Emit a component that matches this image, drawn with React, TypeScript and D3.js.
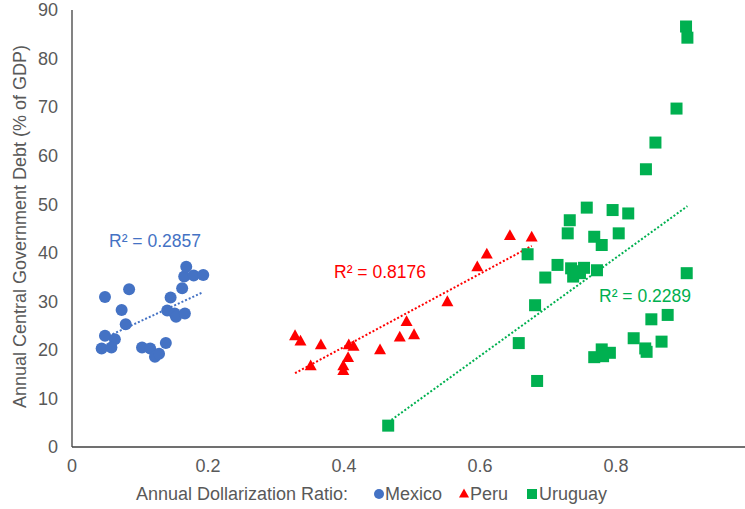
import React from "react";
import * as d3 from "d3";

const W = 745;
const H = 509;

// Data (x = dollarization ratio, y = debt % of GDP)
const mexicoX = [0.0485, 0.084, 0.073, 0.079, 0.0485, 0.063, 0.0436, 0.058, 0.103, 0.115, 0.122, 0.128, 0.138, 0.145, 0.140, 0.151, 0.153, 0.166, 0.162, 0.165, 0.168, 0.179, 0.193];
const mexicoY = [30.9, 32.5, 28.2, 25.3, 22.9, 22.2, 20.3, 20.5, 20.5, 20.3, 18.6, 19.2, 21.4, 30.8, 28.1, 27.5, 26.8, 27.5, 32.7, 35.1, 37.1, 35.3, 35.4];

const peruX = [0.328, 0.336, 0.366, 0.351, 0.407, 0.414, 0.406, 0.399, 0.399, 0.453, 0.482, 0.492, 0.503, 0.552, 0.596, 0.610, 0.644, 0.676];
const peruY = [22.9, 21.8, 21.0, 16.7, 21.0, 20.7, 18.4, 16.7, 15.7, 20.0, 22.6, 25.8, 23.1, 29.9, 37.1, 39.7, 43.5, 43.2];

const uruguayX = [0.465, 0.657, 0.684, 0.681, 0.670, 0.696, 0.714, 0.732, 0.729, 0.757, 0.795, 0.818, 0.804, 0.768, 0.779, 0.734, 0.753, 0.737, 0.747, 0.742, 0.772, 0.779, 0.768, 0.791, 0.781, 0.826, 0.843, 0.845, 0.867, 0.852, 0.876, 0.904, 0.844, 0.858, 0.889, 0.903, 0.905];
const uruguayY = [4.4, 21.4, 13.6, 29.2, 39.7, 34.9, 37.5, 46.7, 44.0, 49.3, 48.8, 48.1, 44.0, 43.3, 41.6, 36.8, 36.9, 35.1, 35.8, 36.2, 36.4, 20.1, 18.5, 19.4, 18.7, 22.4, 20.3, 19.6, 21.7, 26.3, 27.2, 35.8, 57.2, 62.7, 69.7, 86.6, 84.3];

// Trend lines [x0, y0, x1, y1]
const mexicoTrend = [0.0436, 22.2, 0.193, 31.9];
const peruTrend = [0.328, 15.2, 0.676, 41.4];
const uruguayTrend = [0.465, 5.1, 0.905, 49.6];

const r2Labels = ["R² = 0.2857", "R² = 0.8176", "R² = 0.2289"];
const seriesNames = ["Mexico", "Peru", "Uruguay"];
const xTicks = [0, 0.2, 0.4, 0.6, 0.8, 1];
const yTicks = [0, 10, 20, 30, 40, 50, 60, 70, 80, 90];

const BLUE = "#4472C4";
const RED = "#FF0000";
const GREEN = "#00B050";
const TXT = "#595959";
const FONT = "'Liberation Sans', Arial, sans-serif";
const FS = 18;

export default function App() {
  const x = d3.scaleLinear().domain([0, 1]).range([72, 752]);
  const y = d3.scaleLinear().domain([0, 90]).range([447, 10]);

  const trend = (t: number[], color: string) => (
    <line x1={x(t[0])} y1={y(t[1])} x2={x(t[2])} y2={y(t[3])} stroke={color} strokeWidth={2} strokeDasharray="2 2" />
  );

  const tri = (cx: number, cy: number, s: number) => {
    const h = s * 0.9;
    return `M${cx},${cy - h * 0.6} L${cx + s / 2},${cy + h * 0.4} L${cx - s / 2},${cy + h * 0.4} Z`;
  };

  return (
    <svg width={W} height={H} style={{ position: "absolute", left: 0, top: 0, background: "#fff" }} fontFamily={FONT}>
      <rect x={0} y={0} width={W} height={H} fill="#fff" />
      {/* axes */}
      <line x1={72} y1={10} x2={72} y2={447} stroke="#404040" strokeWidth={1.3} />
      <line x1={72} y1={447} x2={W} y2={447} stroke="#404040" strokeWidth={1.3} />
      {yTicks.map((t) => (
        <text key={"y" + t} x={58} y={y(t)} dy="0.35em" textAnchor="end" fontSize={FS} fill={TXT}>{t}</text>
      ))}
      {xTicks.map((t) => (
        <text key={"x" + t} x={x(t)} y={466} dy="0.35em" textAnchor="middle" fontSize={FS} fill={TXT}>{t}</text>
      ))}
      <text transform={`translate(20,${y(45) - 2}) rotate(-90)`} textAnchor="middle" dy="0.35em" fontSize={FS} fill={TXT}>
        Annual Central Government Debt (% of GDP)
      </text>

      {/* trend lines */}
      {trend(mexicoTrend, BLUE)}
      {trend(peruTrend, RED)}
      {trend(uruguayTrend, GREEN)}

      {/* points */}
      {mexicoX.map((v, i) => (
        <circle key={"m" + i} cx={x(v)} cy={y(mexicoY[i])} r={6} fill={BLUE} />
      ))}
      {peruX.map((v, i) => (
        <path key={"p" + i} d={tri(x(v), y(peruY[i]), 12)} fill={RED} />
      ))}
      {uruguayX.map((v, i) => (
        <rect key={"u" + i} x={x(v) - 6} y={y(uruguayY[i]) - 6} width={12} height={12} fill={GREEN} />
      ))}

      {/* R² labels */}
      <text x={155} y={241} dy="0.35em" textAnchor="middle" fontSize={17.5} fill={BLUE}>{r2Labels[0]}</text>
      <text x={380} y={272} dy="0.35em" textAnchor="middle" fontSize={17.5} fill={RED}>{r2Labels[1]}</text>
      <text x={645} y={296} dy="0.35em" textAnchor="middle" fontSize={17.5} fill={GREEN}>{r2Labels[2]}</text>

      {/* legend */}
      <text x={136} y={494} dy="0.35em" fontSize={FS} fill={TXT}>Annual Dollarization Ratio:</text>
      <circle cx={379} cy={494} r={5} fill={BLUE} />
      <text x={385} y={494} dy="0.35em" fontSize={FS} fill={TXT}>{seriesNames[0]}</text>
      <path d={tri(464, 494, 10)} fill={RED} />
      <text x={470} y={494} dy="0.35em" fontSize={FS} fill={TXT}>{seriesNames[1]}</text>
      <rect x={527} y={489} width={10} height={10} fill={GREEN} />
      <text x={539} y={494} dy="0.35em" fontSize={FS} fill={TXT}>{seriesNames[2]}</text>
    </svg>
  );
}
